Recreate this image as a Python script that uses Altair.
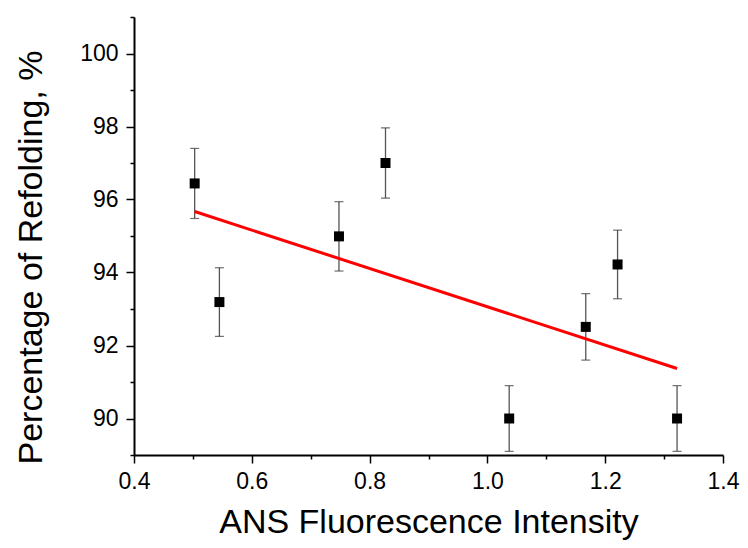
import altair as alt
import pandas as pd

# Data
ans_x = [0.503, 0.545, 0.748, 0.827, 1.037, 1.167, 1.221, 1.322]
refold_y = [96.44, 93.19, 94.99, 97.00, 90.00, 92.51, 94.22, 90.00]
err = [0.96, 0.94, 0.95, 0.96, 0.90, 0.91, 0.94, 0.90]

fit_x = [0.503, 1.322]
fit_y = [95.67, 91.37]

x_major = [0.4, 0.6, 0.8, 1.0, 1.2, 1.4]
x_minor = [0.5, 0.7, 0.9, 1.1, 1.3]
y_major = [90, 92, 94, 96, 98, 100]
y_minor = [89, 91, 93, 95, 97, 99, 101]

df = pd.DataFrame({"x": ans_x, "y": refold_y, "e": err})
fit = pd.DataFrame({"x": fit_x, "y": fit_y})

FONT = "Liberation Sans"
xs = alt.Scale(domain=[0.4, 1.4], nice=False, zero=False)
ys = alt.Scale(domain=[89, 101], nice=False, zero=False)

base = alt.Chart(df).transform_calculate(lo="datum.y - datum.e", hi="datum.y + datum.e")

major_x_axis = alt.Axis(
    values=x_major, format=".1f", tickSize=8, tickWidth=1.5, tickColor="#000",
    domainColor="#000", domainWidth=2, labelFont=FONT, labelFontSize=23,
    labelColor="#000", labelPadding=7, grid=False, orient="bottom",
    title="ANS Fluorescence Intensity", titleFont=FONT, titleFontSize=34,
    titleFontWeight="normal", titleColor="#000", titleY=77, titleBaseline="alphabetic",
    labelFlush=False, labelOverlap=False,
)
major_y_axis = alt.Axis(
    values=y_major, format="d", tickSize=8, tickWidth=1.5, tickColor="#000",
    domainColor="#000", domainWidth=2, labelFont=FONT, labelFontSize=23,
    labelColor="#000", labelPadding=8, grid=False, orient="left",
    title="Percentage of Refolding,  %", titleFont=FONT, titleFontSize=34,
    titleFontWeight="normal", titleColor="#000", titleX=-93, titleY=240,
    titleBaseline="alphabetic", labelFlush=False, labelOverlap=False,
)
minor_x_axis = alt.Axis(values=x_minor, tickSize=4, tickWidth=1.5, tickColor="#000",
                        labels=False, domain=False, grid=False, title=None, orient="bottom")
minor_y_axis = alt.Axis(values=y_minor, tickSize=4, tickWidth=1.5, tickColor="#000",
                        labels=False, domain=False, grid=False, title=None, orient="left")

rules = base.mark_rule(color="#555", strokeWidth=1.3).encode(
    x=alt.X("x:Q", scale=xs, axis=None),
    y=alt.Y("lo:Q", scale=ys, axis=None),
    y2="hi:Q",
)
caps_lo = base.mark_tick(color="#333", orient="horizontal", size=9, thickness=1.2).encode(
    x=alt.X("x:Q", scale=xs, axis=None),
    y=alt.Y("lo:Q", scale=ys, axis=None),
)
caps_hi = base.mark_tick(color="#333", orient="horizontal", size=9, thickness=1.2).encode(
    x=alt.X("x:Q", scale=xs, axis=None),
    y=alt.Y("hi:Q", scale=ys, axis=None),
)
line = alt.Chart(fit).mark_line(color="#ff0000", strokeWidth=3).encode(
    x=alt.X("x:Q", scale=xs, axis=None),
    y=alt.Y("y:Q", scale=ys, axis=None),
)
points = base.mark_point(shape="square", filled=True, color="#000", size=100, opacity=1).encode(
    x=alt.X("x:Q", scale=xs, axis=major_x_axis),
    y=alt.Y("y:Q", scale=ys, axis=major_y_axis),
)
minor = base.mark_point(opacity=0).encode(
    x=alt.X("x:Q", scale=xs, axis=minor_x_axis),
    y=alt.Y("y:Q", scale=ys, axis=minor_y_axis),
)

chart = (
    alt.layer(rules, caps_lo, caps_hi, line, points, minor)
    .resolve_axis(x="independent", y="independent")
    .properties(
        width=589, height=438,
        padding={"left": 126, "top": 9, "right": 17, "bottom": 85},
        autosize=alt.AutoSizeParams(type="none"),
        background="white",
    )
    .configure_view(stroke=None)
)

chart.save("out.html", embed_options={"renderer": "svg", "actions": False})
